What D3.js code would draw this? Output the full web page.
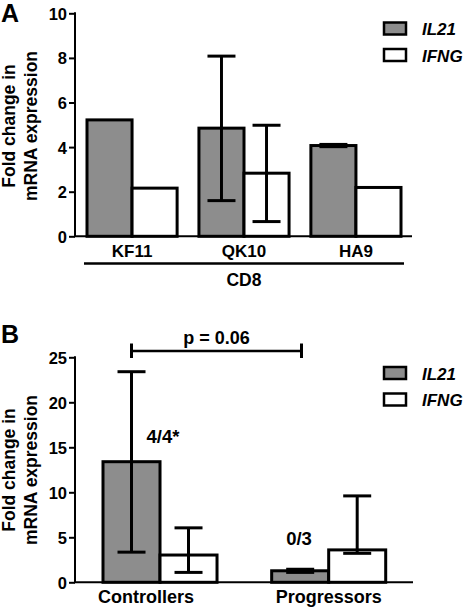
<!DOCTYPE html>
<html><head><meta charset="utf-8">
<script src="https://cdn.jsdelivr.net/npm/d3@7"></script>
<style>
body{margin:0;background:#fff;}
text{font-family:"Liberation Sans",Arial,sans-serif;font-weight:bold;fill:#000;}
</style></head>
<body><svg id="c" width="466" height="608"></svg>
<script>
// ---- Data: panel A ----
const catsA = ["KF11","QK10","HA9"];
const series = ["IL21","IFNG"];
const il21A = [5.22, 4.85, 4.07];
const il21A_lo = [null, 1.6, 4.02];
const il21A_hi = [null, 8.08, 4.12];
const ifngA = [2.16, 2.83, 2.19];
const ifngA_lo = [null, 0.66, null];
const ifngA_hi = [null, 4.98, null];
const ticksA = [0,2,4,6,8,10];
const groupLabelA = "CD8";

// ---- Data: panel B ----
const catsB = ["Controllers","Progressors"];
const il21B = [13.4, 1.28];
const il21B_lo = [3.35, 1.1];
const il21B_hi = [23.4, 1.45];
const ifngB = [3.03, 3.6];
const ifngB_lo = [1.1, 3.22];
const ifngB_hi = [6.05, 9.6];
const ticksB = [0,5,10,15,20,25];
const annotB = ["4/4*","0/3"];
const pText = "p = 0.06";

const yTitle = ["Fold change in","mRNA expression"];
const GRAY = "#8d8d8d";

const svg = d3.select("#c");

function panel(opt){
  const g = svg.append("g");
  const y = d3.scaleLinear().domain(opt.domain).range([opt.y0, opt.y1]);
  const x = d3.scaleBand().domain(opt.cats).range(opt.xr).paddingInner(opt.pad).paddingOuter(0);
  const xs = d3.scaleBand().domain(series).range([0, x.bandwidth()]);

  // y axis
  const ax = g.append("g").attr("transform",`translate(${opt.axisX},0)`)
    .call(d3.axisLeft(y).tickValues(opt.ticks).tickSize(6).tickPadding(2).tickFormat(d3.format("d")));
  ax.select(".domain").attr("stroke","#000").attr("stroke-width",2)
    .attr("d",`M0,${opt.y1-1}V${opt.y0}`);
  ax.selectAll(".tick line").attr("stroke","#000").attr("stroke-width",2);
  ax.selectAll(".tick text").style("font-size","16.5px").style("font-family","Liberation Sans, Arial").style("font-weight","bold").attr("dy","0.36em");

  // bars
  const rows = opt.cats.map((c,i)=>({c, vals:[
    {s:"IL21", v:opt.il21[i], lo:opt.il21lo[i], hi:opt.il21hi[i]},
    {s:"IFNG", v:opt.ifng[i], lo:opt.ifnglo[i], hi:opt.ifnghi[i]}]}));
  rows.forEach(r=>{
    r.vals.forEach(d=>{
      const x0 = x(r.c)+xs(d.s);
      g.append("rect").attr("x",x0).attr("width",xs.bandwidth())
        .attr("y",y(d.v)).attr("height",y(0)-y(d.v))
        .attr("fill", d.s==="IL21"?GRAY:"#fff").attr("stroke","#000").attr("stroke-width",3);
    });
  });
  // error bars
  rows.forEach(r=>{
    r.vals.forEach(d=>{
      if(d.lo==null) return;
      const cx = x(r.c)+xs(d.s)+xs.bandwidth()/2;
      const cw = opt.cap;
      g.append("line").attr("x1",cx).attr("x2",cx).attr("y1",y(d.lo)).attr("y2",y(d.hi)).attr("stroke","#000").attr("stroke-width",3);
      [d.lo,d.hi].forEach(v=>g.append("line").attr("x1",cx-cw/2).attr("x2",cx+cw/2).attr("y1",y(v)).attr("y2",y(v)).attr("stroke","#000").attr("stroke-width",3));
    });
  });
  // x axis baseline
  g.append("line").attr("x1",opt.axisX-1).attr("x2",opt.xEnd).attr("y1",y(0)).attr("y2",y(0)).attr("stroke","#000").attr("stroke-width",2);

  // y title
  const tg = g.append("g").attr("transform","rotate(-90)");
  yTitle.forEach((t,i)=>tg.append("text").attr("x",-opt.titleY).attr("y",i===0?15:37).attr("text-anchor","middle").style("font-size","17.5px").text(t));

  // panel letter
  g.append("text").attr("x",1).attr("y",opt.letterY).style("font-size","25px").text(opt.letter);

  // legend
  series.forEach((s,i)=>{
    const ly = opt.legY + i*26.5;
    g.append("rect").attr("x",384).attr("y",ly).attr("width",22).attr("height",12)
      .attr("fill", s==="IL21"?GRAY:"#fff").attr("stroke","#000").attr("stroke-width",2.5);
    g.append("text").attr("x",422).attr("y",ly+12.5).style("font-size","17px").style("font-style","italic").text(s);
  });
  return {g,x,xs,y};
}

// Panel A
const A = panel({domain:[0,10], y0:236.3, y1:13.3, cats:catsA, xr:[87,401], pad:0.195,
  axisX:75, xEnd:412, ticks:ticksA, il21:il21A, il21lo:il21A_lo, il21hi:il21A_hi,
  ifng:ifngA, ifnglo:ifngA_lo, ifnghi:ifngA_hi, cap:28, titleY:126, letter:"A", letterY:21.5, legY:22.5});
catsA.forEach(c=>A.g.append("text").attr("x",A.x(c)+A.x.bandwidth()/2).attr("y",257).attr("text-anchor","middle").style("font-size","17px").text(c));
A.g.append("line").attr("x1",84).attr("x2",404).attr("y1",263.5).attr("y2",263.5).attr("stroke","#000").attr("stroke-width",2.5);
A.g.append("text").attr("x",244).attr("y",286).attr("text-anchor","middle").style("font-size","17.5px").text(groupLabelA);

// Panel B
const B = panel({domain:[0,25], y0:582.3, y1:357.3, cats:catsB, xr:[103,385.7], pad:0.324,
  axisX:75, xEnd:413, ticks:ticksB, il21:il21B, il21lo:il21B_lo, il21hi:il21B_hi,
  ifng:ifngB, ifnglo:ifngB_lo, ifnghi:ifngB_hi, cap:28, titleY:470, letter:"B", letterY:343, legY:367});
const labelShift = [-14, 0];
catsB.forEach((c,i)=>B.g.append("text").attr("x",B.x(c)+B.x.bandwidth()/2+labelShift[i]).attr("y",603).attr("text-anchor","middle").style("font-size","18px").text(c));
annotB.forEach((t,i)=>B.g.append("text").attr("x",[163,299][i]).attr("y",[443,545][i]).attr("text-anchor","middle").style("font-size","18.5px").text(t));
// significance bracket
const bx1 = B.x(catsB[0])+B.xs.bandwidth()/2, bx2 = 301.5, by = 351;
B.g.append("line").attr("x1",bx1).attr("x2",bx2).attr("y1",by).attr("y2",by).attr("stroke","#000").attr("stroke-width",2.5);
[bx1,bx2].forEach(xx=>B.g.append("line").attr("x1",xx).attr("x2",xx).attr("y1",by-7.5).attr("y2",by+7).attr("stroke","#000").attr("stroke-width",3));
B.g.append("text").attr("x",(bx1+bx2)/2).attr("y",344).attr("text-anchor","middle").style("font-size","18px").text(pText);
</script></body></html>
